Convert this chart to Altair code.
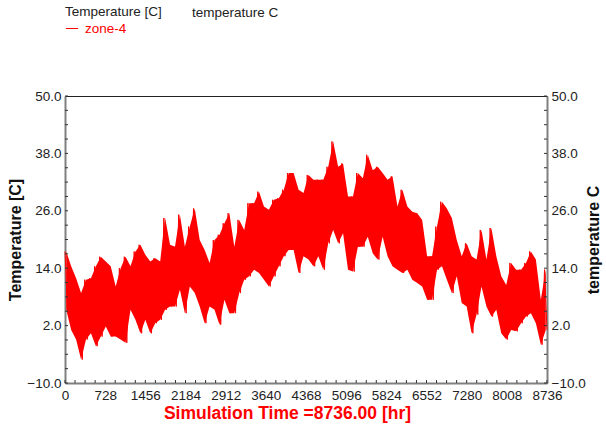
import altair as alt
import pandas as pd

# ---- data (upper / lower envelope of the hourly series, ~90 h apart)
hi_vals = [17.5, 14.4, 11.9, 8.8, 11.6, 11.9, 14.4, 16.4, 15.4, 14.4, 10.2, 14.0, 16.4, 14.4, 17.5,
           18.9, 16.8, 15.4, 16.1, 15.4, 24.5, 18.9, 18.5, 25.2, 18.5,
           22.7, 26.5, 19.9, 17.8, 15.1, 19.9, 21.0, 23.4, 25.5, 18.5, 24.1, 22.0, 27.6, 27.6,
           30.0, 26.9, 26.2, 28.3, 28.6, 30.4, 33.9, 33.9, 30.4, 29.7,
           33.5, 32.5, 32.5, 32.5, 35.2, 40.5, 35.2, 35.9, 29.0, 29.0, 33.9, 32.8, 37.7, 34.5,
           35.2, 33.9, 32.5, 33.2, 26.9, 30.4, 26.9, 25.8, 25.5, 24.1, 16.5,
           16.5, 22.7, 27.9, 26.5, 24.5, 19.9, 16.5, 19.2, 16.5, 15.8, 22.0, 15.8, 22.4, 16.5,
           12.3, 10.5, 15.1, 13.7, 13.7, 15.1, 17.5, 15.8, 7.4, 13.7]
lo_vals = [5.3, 1.1, -0.9, -5.1, -0.9, 0.4, -2.3, -0.3, 1.8, -0.3, -0.3, -0.9, -1.6, 5.3, 3.2,
           0.4, 3.2, 0.4, 2.5, 3.2, 5.3, 6.0, 6.0, 9.5, 4.6,
           10.2, 8.8, 6.0, 2.5, 6.0, 5.3, 2.2, 7.4, 4.6, 4.6, 8.8, 11.6, 12.3, 13.7,
           13.0, 11.6, 10.2, 12.3, 14.4, 16.5, 17.8, 17.8, 13.0, 16.5,
           15.8, 14.4, 16.5, 13.7, 19.2, 22.0, 19.2, 21.3, 13.7, 13.3, 18.5, 18.5, 20.6, 17.1,
           15.8, 20.6, 16.5, 14.4, 13.7, 13.0, 13.7, 11.6, 10.9, 10.2, 7.4,
           7.4, 13.7, 14.4, 11.6, 8.8, 12.3, 6.7, 6.0, 0.4, 4.3, 10.2, 6.0, 3.9, 5.3,
           0.4, -0.9, 1.1, 0.8, 2.5, 3.9, 4.6, 2.5, -2.0, 1.1]
series_name = "zone-4"
x_ticks = [0, 728, 1456, 2184, 2912, 3640, 4368, 5096, 5824, 6552, 7280, 8008, 8736]
y_ticks = [-10.0, 2.0, 14.0, 26.0, 38.0, 50.0]
y_minor = list(range(-10, 51, 3))
x_minor = list(range(0, 8737, 182))
left_title = "Temperature [C]"
right_title = "temperature C"
x_title = "Simulation Time =8736.00 [hr]"

T_END = 8736
W, H = 482, 287
RED = "#ff0000"

n = len(hi_vals)
step = T_END / (n - 0.5)
rows = []
band_rows = []
for i in range(n):
    rows.append({"hour": i * step, "temp": hi_vals[i], "series": series_name})
    rows.append({"hour": (i + 0.5) * step, "temp": lo_vals[i], "series": series_name})
    band_rows.append({"hour": (i + 0.25) * step, "hi": hi_vals[i], "lo": lo_vals[i]})
df = pd.DataFrame(rows)
band_df = pd.DataFrame(band_rows)

xscale = alt.Scale(domain=[0, T_END], nice=False, zero=False)
yscale = alt.Scale(domain=[-10, 50], nice=False, zero=False)

band = alt.Chart(band_df).mark_area(color=RED, opacity=1).encode(
    x=alt.X("hour:Q", scale=xscale, axis=None),
    y=alt.Y("hi:Q", scale=yscale, axis=None),
    y2="lo:Q",
)

line = alt.Chart(df).mark_line(strokeWidth=1).encode(
    x=alt.X("hour:Q", scale=xscale,
            axis=alt.Axis(values=x_ticks, format="d", title=x_title, titleColor=RED,
                          titleFontSize=17.5, titleFontWeight="bold", labelPadding=5,
                          titlePadding=3, titleX=222, labelFlush=False)),
    y=alt.Y("temp:Q", scale=yscale,
            axis=alt.Axis(values=y_ticks, format=".1f", title=left_title, labelPadding=4,
                          titlePadding=3)),
    color=alt.Color("series:N", scale=alt.Scale(range=[RED]),
                    legend=alt.Legend(title=left_title, orient="none", legendX=0, legendY=-91,
                                      symbolType="stroke", symbolStrokeWidth=1, symbolSize=150,
                                      labelColor=RED, labelFontSize=13.5, titleFontSize=13.5,
                                      titleFontWeight="normal", titleColor="#222", titlePadding=3,
                                      labelOffset=6, padding=0)),
)

ydf = pd.DataFrame({"v": y_minor})
xdf = pd.DataFrame({"v": x_minor})

left_ticks = alt.Chart(ydf).mark_rule(color="#333").encode(
    y=alt.Y("v:Q", scale=yscale, axis=None), x=alt.value(0), x2=alt.value(3))
right_ticks = alt.Chart(ydf).mark_rule(color="#333").encode(
    y=alt.Y("v:Q", scale=yscale,
            axis=alt.Axis(orient="right", values=y_ticks, format=".1f", title=right_title,
                          titleAngle=270, labelPadding=4, titlePadding=16)),
    x=alt.value(W - 3), x2=alt.value(W))
bottom_ticks = alt.Chart(xdf).mark_rule(color="#333").encode(
    x=alt.X("v:Q", scale=xscale, axis=None), y=alt.value(H - 3), y2=alt.value(H))

label_df = pd.DataFrame({"t": [right_title]})
right_label = alt.Chart(label_df).mark_text(align="left", baseline="middle", fontSize=13.5,
                                            color="#222").encode(
    text="t:N", x=alt.value(127), y=alt.value(-83))

chart = alt.layer(band, line, left_ticks, right_ticks, bottom_ticks, right_label).resolve_axis(
    y="independent", x="independent"
).properties(
    width=W, height=H, autosize="none",
    padding={"left": 65, "top": 96, "right": 59, "bottom": 45},
).configure(font="Liberation Sans").configure_view(
    stroke="#222", strokeWidth=1
).configure_axis(
    domainColor="#808080", domainWidth=2, ticks=False, grid=False,
    labelFontSize=13.5, labelColor="#222", titleFontSize=16, titleColor="#111",
    labelFont="Liberation Sans", titleFont="Liberation Sans"
)

chart.save("out.html", embed_options={"renderer": "svg", "actions": False})
